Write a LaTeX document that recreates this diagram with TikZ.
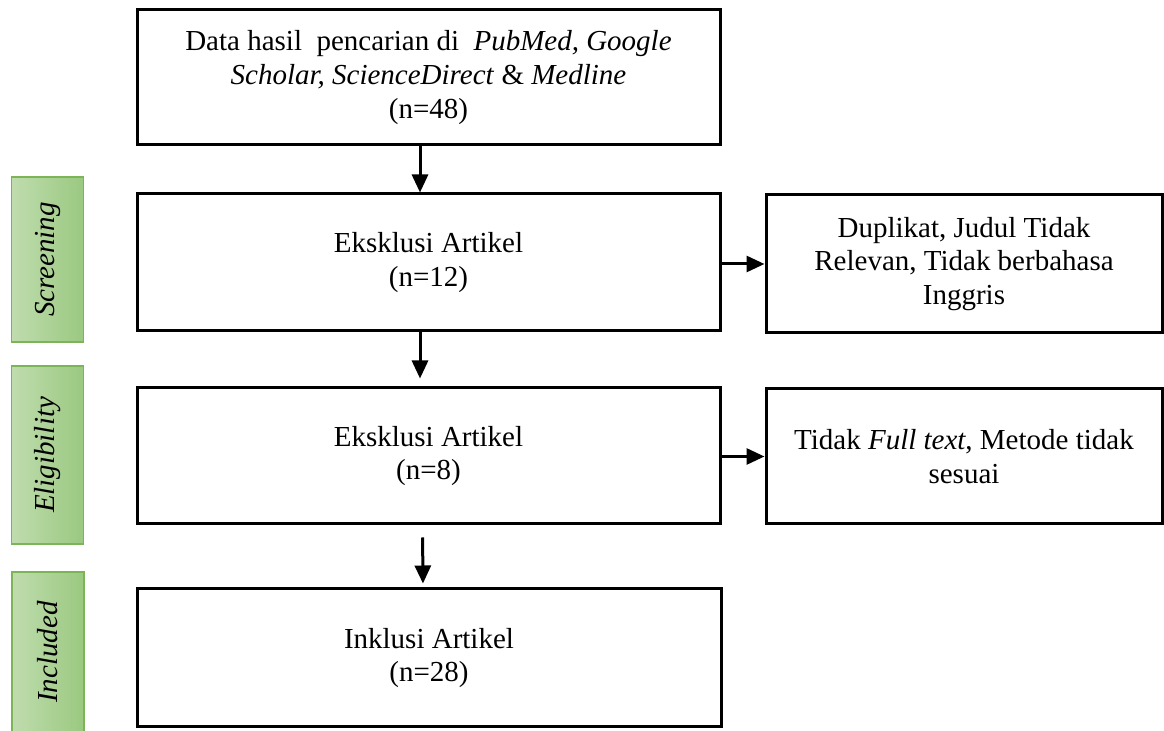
\documentclass[tikz,border=0pt]{standalone}
\usepackage{fontspec}
\setmainfont{Liberation Serif}
\usetikzlibrary{arrows.meta}
\definecolor{stagelight}{RGB}{192,220,174}
\definecolor{stagedark}{RGB}{154,201,128}
\definecolor{stageline}{RGB}{124,180,88}
\pgfdeclarehorizontalshading{stagegrad}{100bp}{color(0bp)=(stagelight); color(25bp)=(stagelight); color(75bp)=(stagedark); color(100bp)=(stagedark)}

\begin{document}
\begin{tikzpicture}[x=0.5pt,y=0.5pt,yscale=-1,xscale=1,
  flowbox/.style={draw=black,line width=1.5pt,fill=white,align=center,inner sep=0pt,
    font=\fontsize{14.5}{16.8}\selectfont},
  stagebox/.style={draw=stageline,line width=0.8pt,shading=stagegrad,shading angle=0,
    inner sep=0pt,minimum width=36pt},
  stagetext/.style={rotate=90,inner sep=0pt,font=\fontsize{14.5}{16.8}\selectfont\itshape},
  flowarrow/.style={line width=1.5pt,-{Triangle[length=9pt,width=8pt]}}]
 %uncomment if require: \path (0,731);
 \useasboundingbox (0,0) rectangle (1164,731);

 \draw (428.5,77.5) node [flowbox,minimum width=291.5pt,minimum height=67.5pt] (src) {Data hasil\ \ pencarian di\ \ \textit{PubMed, Google}\\ \textit{Scholar, ScienceDirect} \& \textit{Medline}\\ (n=48)};
 \draw (428.5,262.5) node [flowbox,minimum width=291.5pt,minimum height=68.5pt] (scr) {Eksklusi Artikel\\ (n=12)};
 \draw (428.5,456) node [flowbox,minimum width=291.5pt,minimum height=68pt] (elg) {Eksklusi Artikel\\ (n=8)};
 \draw (429,658) node [flowbox,minimum width=292pt,minimum height=69pt] (inc) {Inklusi Artikel\\ (n=28)};

 \draw (964,264) node [flowbox,minimum width=198pt,minimum height=69pt] (dup) {Duplikat, Judul Tidak\\ Relevan, Tidak berbahasa\\ Inggris};
 \draw (964,456.5) node [flowbox,minimum width=198pt,minimum height=67.5pt] (full) {Tidak \textit{Full text}, Metode tidak\\ sesuai};

 \draw (47.5,259.5) node [stagebox,minimum height=82.5pt,label={[stagetext]center:Screening}] (screening) {};
 \draw (47.5,455) node [stagebox,minimum height=89pt,label={[stagetext]center:Eligibility}] (eligibility) {};
 \draw (48,652) node [stagebox,minimum height=80pt,label={[stagetext]center:Included}] (included) {};

 \draw [flowarrow] ([xshift=-4.25pt]src.south) -- ([xshift=-4.25pt]scr.north);
 \draw [flowarrow,shorten >=4pt] ([xshift=-4.25pt]scr.south) -- ([xshift=-4.25pt]elg.north);
 \draw [flowarrow,shorten <=6pt,shorten >=2pt] ([xshift=-3pt]elg.south) -- ([xshift=-3pt]inc.north);
 \draw [flowarrow] (scr.east |- dup.west) -- (dup.west);
 \draw [flowarrow] (elg.east |- full.west) -- (full.west);
\end{tikzpicture}
\end{document}
